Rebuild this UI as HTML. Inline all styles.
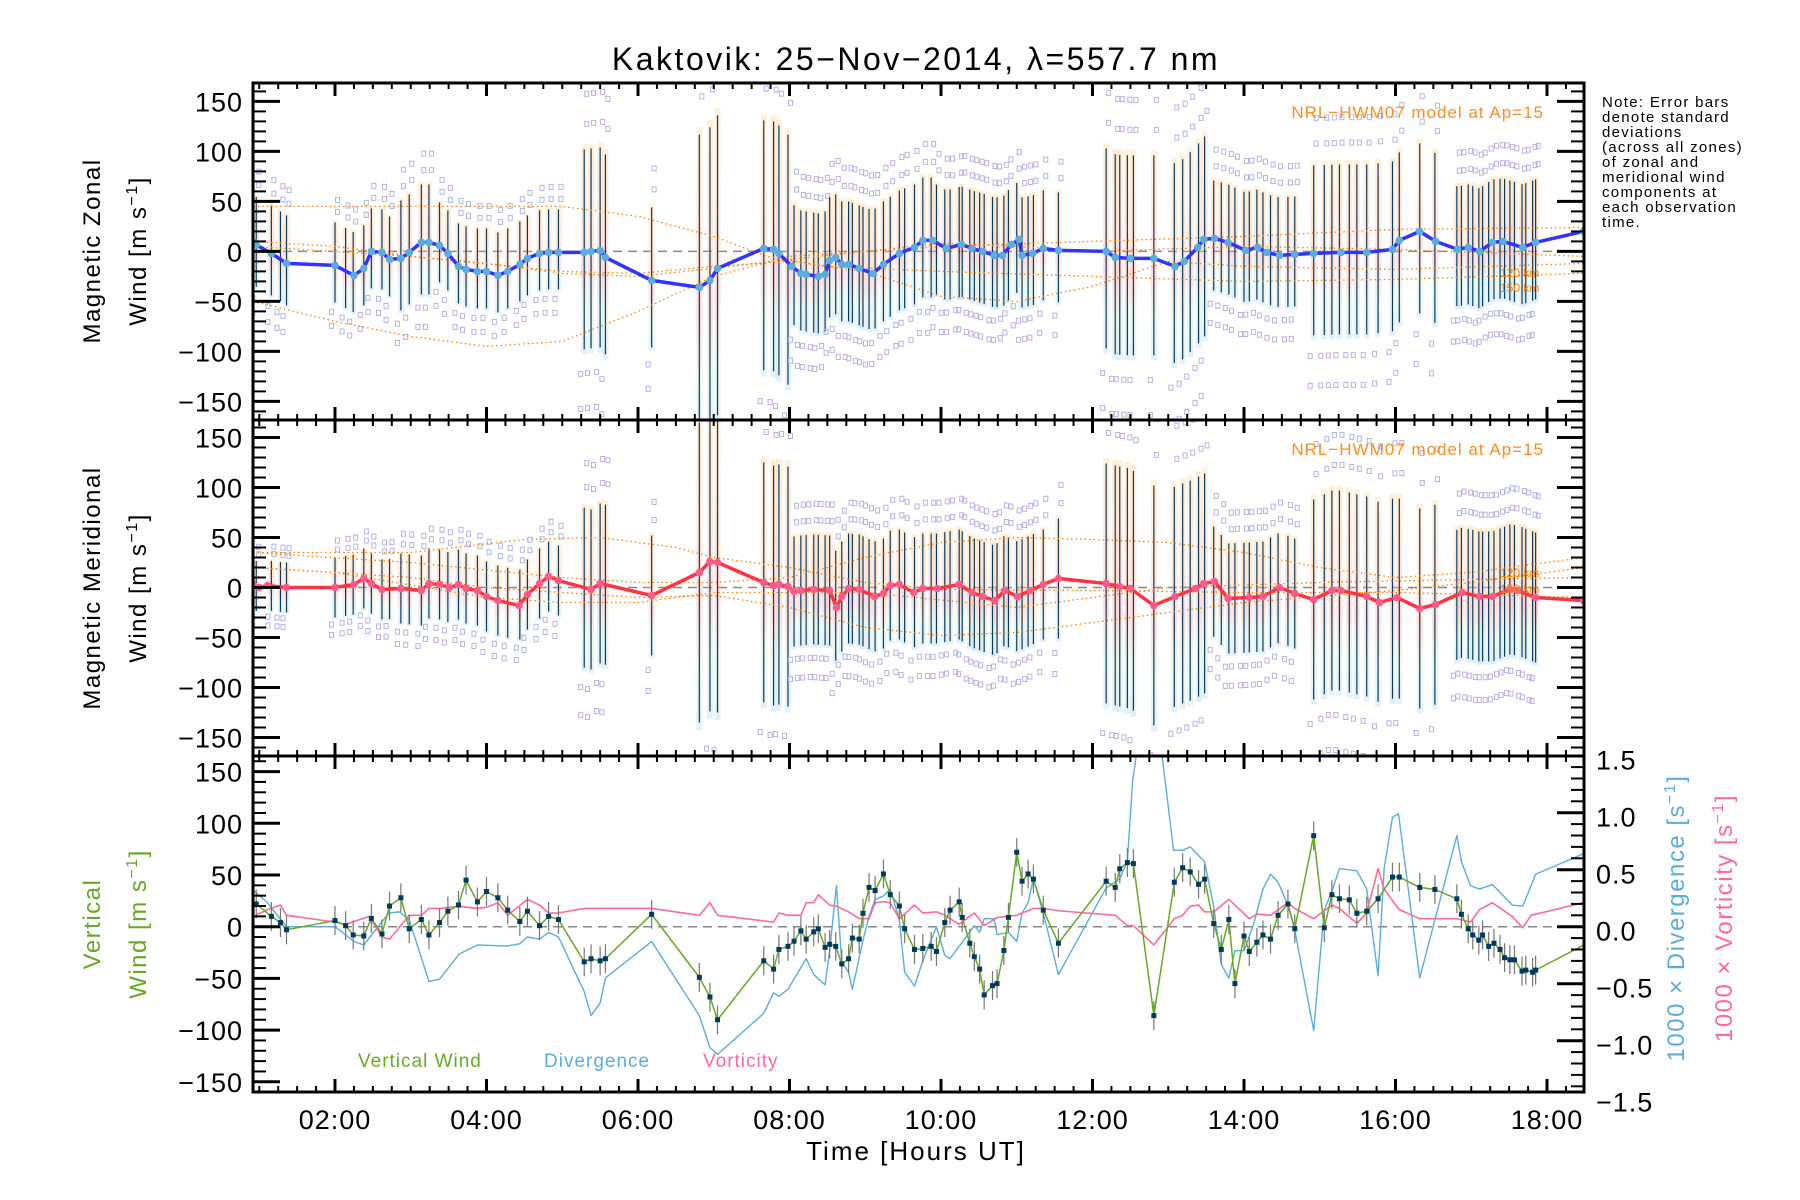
<!DOCTYPE html>
<html><head><meta charset="utf-8"><style>
html,body{margin:0;padding:0;background:#fff;}
svg{display:block;font-family:"Liberation Sans",sans-serif;}
</style></head><body>
<svg id="chart" xmlns="http://www.w3.org/2000/svg" width="1800" height="1200" viewBox="0 0 1800 1200">
<defs>
<clipPath id="c1"><rect x="253" y="83" width="1331" height="337"/></clipPath>
<clipPath id="c2"><rect x="253" y="420" width="1331" height="336"/></clipPath>
<clipPath id="c3"><rect x="253" y="756" width="1331" height="336"/></clipPath>
<linearGradient id="halo" x1="0" y1="0" x2="0" y2="1">
<stop offset="0" stop-color="#ffd9a0"/><stop offset="0.45" stop-color="#ffc0a8"/><stop offset="0.6" stop-color="#f8b0b0"/><stop offset="0.8" stop-color="#c8ecd8"/><stop offset="1" stop-color="#b8dcf4"/>
</linearGradient>
</defs>
<rect width="1800" height="1200" fill="#fff"/>
<text x="916" y="70" font-size="32" letter-spacing="2.5" text-anchor="middle">Kaktovik: 25−Nov−2014, λ=557.7 nm</text>
<g id="p1" clip-path="url(#c1)"></g>
<g id="p2" clip-path="url(#c2)"></g>
<g id="p3" clip-path="url(#c3)"></g>
<g id="axes"></g>
<g font-size="24" letter-spacing="1.5">
<text transform="translate(100,251) rotate(-90)" text-anchor="middle">Magnetic Zonal</text>
<text transform="translate(146,251) rotate(-90)" text-anchor="middle">Wind [m s<tspan font-size="16" dy="-9">−1</tspan><tspan dy="9">]</tspan></text>
</g>
<g font-size="24" letter-spacing="1.5">
<text transform="translate(100,588) rotate(-90)" text-anchor="middle">Magnetic Meridional</text>
<text transform="translate(146,588) rotate(-90)" text-anchor="middle">Wind [m s<tspan font-size="16" dy="-9">−1</tspan><tspan dy="9">]</tspan></text>
</g>
<g font-size="24" letter-spacing="1.5" fill="#66aa22">
<text transform="translate(100,924) rotate(-90)" text-anchor="middle">Vertical</text>
<text transform="translate(146,924) rotate(-90)" text-anchor="middle">Wind [m s<tspan font-size="16" dy="-9">−1</tspan><tspan dy="9">]</tspan></text>
</g>
<text transform="translate(1684,918) rotate(-90)" text-anchor="middle" font-size="24" letter-spacing="1.5" fill="#5aaedc">1000 × Divergence [s<tspan font-size="16" dy="-9">−1</tspan><tspan dy="9">]</tspan></text>
<text transform="translate(1732,918) rotate(-90)" text-anchor="middle" font-size="24" letter-spacing="1.5" fill="#ff6a98">1000 × Vorticity [s<tspan font-size="16" dy="-9">−1</tspan><tspan dy="9">]</tspan></text>
<text x="916" y="1160" font-size="26" letter-spacing="2" text-anchor="middle">Time [Hours UT]</text>
<g font-size="15" letter-spacing="1.3">
<text x="1602" y="107">Note: Error bars</text><text x="1602" y="122">denote standard</text><text x="1602" y="137">deviations</text><text x="1602" y="152">(across all zones)</text><text x="1602" y="167">of zonal and</text><text x="1602" y="182">meridional wind</text><text x="1602" y="197">components at</text><text x="1602" y="212">each observation</text><text x="1602" y="227">time.</text>
</g>
<text x="1544" y="118" font-size="17" letter-spacing="1" fill="#ff8c1a" text-anchor="end">NRL−HWM07 model at Ap=15</text>
<text x="1544" y="455" font-size="17" letter-spacing="1" fill="#ff8c1a" text-anchor="end">NRL−HWM07 model at Ap=15</text>
<g font-size="12" fill="#ff8000">
<text x="1500" y="277">120 km</text><text x="1500" y="292">150 km</text>
<text x="1500" y="577">120 km</text><text x="1500" y="593">150 km</text>
</g>
<g font-size="19" letter-spacing="1">
<text x="358" y="1067" fill="#66aa22">Vertical Wind</text>
<text x="544" y="1067" fill="#5aaedc">Divergence</text>
<text x="703" y="1067" fill="#ff6a98">Vorticity</text>
</g>
</svg>
<script>
// ---- data ----
const vt=[0.96,1.16,1.28,1.36,2.0,2.14,2.24,2.38,2.48,2.62,2.72,2.87,2.98,3.14,3.24,3.38,3.49,3.63,3.73,3.88,4.0,4.15,4.28,4.44,4.54,4.70,4.82,4.95,5.29,5.38,5.50,5.57,6.18,6.81,6.95,7.05,7.66,7.79,7.86,7.98,8.06,8.15,8.22,8.32,8.38,8.47,8.53,8.61,8.69,8.78,8.83,8.92,8.97,9.05,9.13,9.24,9.33,9.45,9.52,9.65,9.76,9.87,9.94,10.05,10.12,10.24,10.28,10.38,10.44,10.51,10.57,10.68,10.74,10.83,10.89,11.0,11.07,11.15,11.22,11.35,11.55,12.18,12.30,12.36,12.46,12.54,12.81,13.08,13.19,13.29,13.40,13.48,13.60,13.70,13.80,13.88,14.0,14.07,14.17,14.25,14.35,14.45,14.58,14.67,14.92,15.06,15.16,15.26,15.39,15.49,15.62,15.77,15.96,16.05,16.32,16.52,16.81,16.87,16.96,17.02,17.10,17.15,17.23,17.30,17.38,17.44,17.51,17.57,17.67,17.72,17.81,17.85,18.48];
const vw=[22,10,4,-3,6,1,-8,-9,8,-7,20,28,-2,7,-8,4,15,21,45,24,34,28,16,5,15,1,10,7,-34,-31,-33,-31,12,-49,-68,-90,-33,-41,-22,-19,-14,-4,-12,-5,-2,-20,-17,-19,-36,-31,-11,-12,13,38,35,51,31,20,-2,-22,-21,-19,-24,4,16,24,9,-16,-29,-41,-66,-57,-55,-23,9,72,44,51,46,16,-16,44,38,56,62,61,-86,43,57,53,41,46,3,-22,7,-55,-9,-24,-15,-8,-12,11,22,-2,88,-1,31,27,26,13,15,27,48,48,38,36,27,12,-2,-8,-13,-8,-19,-16,-22,-30,-32,-32,-43,-42,-44,-42,-18];
const dt=[0.94,1.11,1.36,2.0,2.25,2.38,2.71,2.85,2.98,3.24,3.38,3.64,3.88,4.26,4.44,4.54,4.70,4.82,4.95,5.29,5.38,5.50,5.57,6.18,6.81,6.95,7.05,7.66,7.79,7.86,7.98,8.22,8.32,8.47,8.53,8.62,8.69,8.78,8.83,8.97,9.05,9.13,9.24,9.33,9.45,9.52,9.65,9.76,9.94,10.05,10.12,10.44,10.51,10.57,10.70,10.74,10.89,11.0,11.07,11.15,11.22,11.35,11.55,12.18,12.36,12.46,12.53,12.60,12.90,13.07,13.19,13.29,13.48,13.60,13.70,13.80,13.88,14.0,14.13,14.25,14.35,14.45,14.58,14.67,14.92,15.06,15.16,15.26,15.49,15.62,15.77,15.85,15.96,16.04,16.32,16.81,16.87,16.99,17.11,17.28,17.54,17.68,17.85,18.48];
const dv=[0.31,0.21,0,0,-0.13,-0.16,0.12,0.13,0.06,-0.48,-0.46,-0.24,-0.16,-0.17,-0.15,-0.09,-0.11,-0.05,-0.09,-0.57,-0.78,-0.67,-0.45,-0.13,-0.78,-1.06,-1.12,-0.76,-0.58,-0.61,-0.55,-0.28,-0.42,-0.51,-0.21,0.36,-0.31,-0.40,-0.55,-0.12,0.09,0.24,0.27,0.33,0.06,-0.40,-0.52,-0.30,0,-0.25,-0.28,0.01,-0.05,0.07,0.07,-0.07,-0.05,-0.13,0.12,0.21,0.42,0.12,-0.42,0.34,0.42,0.57,1.28,1.6,1.6,0.67,0.67,0.70,0.57,0.18,-0.33,-0.45,-0.21,-0.21,0.03,0.33,0.46,0.39,0.19,-0.03,-0.91,0.15,0.31,0.51,0.49,0.33,-0.43,0.51,0.96,0.99,-0.45,0.80,0.57,0.36,0.33,0.37,0.19,0.18,0.46,0.64];
const rt=[0.95,1.11,1.28,1.36,2.0,2.14,2.45,2.62,2.72,2.98,3.14,3.24,3.38,3.63,3.88,4.0,4.15,4.28,4.54,4.70,4.82,4.95,5.29,5.50,6.18,6.81,6.95,7.05,7.79,7.86,7.98,8.15,8.22,8.32,8.38,8.53,8.62,8.78,8.92,9.05,9.13,9.24,9.33,9.45,9.65,9.76,9.94,10.05,10.24,10.44,10.57,10.74,11.0,11.22,11.35,11.55,12.30,12.46,12.54,12.81,13.08,13.19,13.29,13.40,13.48,13.60,13.80,14.07,14.17,14.35,14.58,14.67,14.92,15.16,15.26,15.49,15.62,15.77,15.85,16.05,16.32,16.81,16.99,17.11,17.28,17.54,17.68,17.79,18.48];
const rv=[0.10,0.15,0.19,0.10,0.04,0.02,0.09,-0.09,-0.11,0.10,0.10,0.16,0.16,0.18,0.16,0.17,0.21,0.10,0.24,0.19,0.12,0.12,0.16,0.16,0.16,0.10,0.21,0.10,0.04,0.12,0.10,0.10,0.21,0.21,0.28,0.19,0.18,0.13,0.07,0.07,0.21,0.22,0.21,0.07,0.19,0.12,0.13,0.10,0.02,0.12,0.01,0.08,0.10,0.16,0.16,0.14,0.10,0.01,0.01,-0.16,0.07,0.10,0.18,0.19,0.13,0.13,0.24,0.07,0.11,0.10,0.21,0.16,0.07,0.19,0.16,0.03,0.12,0.51,0.33,0.15,0.07,0.07,0.04,0.15,0.21,0.09,-0.01,0.10,0.21];
const zt=[0.93,0.96,1.16,1.36,2.0,2.25,2.38,2.48,2.62,2.72,2.87,2.98,3.14,3.24,3.38,3.49,3.63,3.73,3.88,4.0,4.15,4.28,4.44,4.54,4.70,4.82,4.95,5.29,5.38,5.50,5.57,6.18,6.81,6.95,7.05,7.66,7.79,7.86,8.03,8.15,8.22,8.38,8.47,8.53,8.61,8.69,8.78,8.92,9.1,9.24,9.45,9.65,9.76,9.89,10.07,10.27,10.41,10.55,10.70,10.81,10.93,11.03,11.07,11.21,11.35,11.55,12.18,12.30,12.50,12.81,13.09,13.21,13.39,13.47,13.61,13.79,14.02,14.18,14.30,14.47,14.67,14.92,15.28,15.62,15.96,16.05,16.32,16.53,16.82,16.96,17.11,17.28,17.42,17.68,17.85,18.48];
const zv=[9,6.5,-2,-12,-14,-24,-17,0,-1,-8,-7,-1,9,9,6,-2,-15,-18,-20,-20,-24,-20,-13,-7,-2,-1,-1,-1,0,1,-6,-29,-36,-29,-17,3,2,-2,-15,-22,-23,-25,-23,-9,-6,-13,-13,-17,-22,-13,-2,4,11,11,3,7,3,0,-4,-4,7,12,-4,-2,3,1,0,-6,-7,-7,-15,-10,4,12,13,9,1,4,-1,-4,-3,-2,-1,-1,2,11,20,10,2,4,0,9,10,4,9,20];
const mt=[0.92,1.0,1.11,1.36,2.0,2.25,2.38,2.48,2.62,2.87,3.14,3.24,3.38,3.51,3.63,3.73,3.88,4.0,4.15,4.43,4.54,4.70,4.82,4.95,5.38,5.50,6.18,6.81,6.95,7.05,7.66,7.79,7.86,7.98,8.06,8.15,8.32,8.53,8.62,8.69,8.78,8.92,9.12,9.24,9.33,9.45,9.64,9.76,9.95,10.24,10.41,10.55,10.71,10.84,11.01,11.18,11.35,11.55,12.18,12.36,12.50,12.81,13.09,13.36,13.47,13.61,13.79,14.07,14.25,14.47,14.67,14.92,15.16,15.28,15.62,15.79,16.02,16.32,16.53,16.88,17.11,17.28,17.51,17.61,17.85,18.48];
const mv=[3,0,2,0,0,3,9,4,-2,-1,-3,4,3,0,3,-1,-3,-9,-13,-18,-7,4,11,7,-2,4,-8,15,26,25,5,2,3,1,-4,-3,-2,-3,-20,-9,-1,-2,-9,-6,2,3,-5,-1,-1,3,-5,-9,-13,-3,-9,-3,3,9,4,1,-1,-18,-9,-1,4,6,-11,-10,-9,0,-6,-12,-3,-3,-9,-15,-10,-21,-17,-5,-9,-9,-2,-3,-10,-13];
// standard-deviation segments (start hour, sd in m/s)
const sdStart=[0.9,1.8,2.8,3.35,5.1,5.9,6.5,7.4,8.05,9.9,11.45,12.0,13.0,13.55,14.85,16.7];
const zonalSd=[45,40,55,40,100,70,150,125,60,55,55,100,100,55,85,60];
const meridSd=[25,30,35,35,80,60,150,120,55,55,60,120,110,55,100,65];
// NRL-HWM07 model curves [hour, value]
const modelZ1=[[0.92,45],[3,45],[5,45],[6,35],[7,15],[7.7,-5],[8.5,-15],[10,-20],[12,-25],[14,-30],[16,-28],[18.5,-22]];
const modelZ2=[[0.92,-50],[2,-70],[3,-85],[4,-95],[5,-90],[6,-60],[7,-25],[8,-5],[10,5],[12,10],[14,15],[16,22],[18.5,24]];
const modelZ3=[[0.92,10],[2,5],[3,-5],[4,-12],[5,-22],[6,-25],[7,-17],[8,-8],[9,0],[10,8],[11,5],[12,0],[14,5],[16,2],[18.5,-5]];
const modelZ4=[[0.92,5],[3,-5],[5,-20],[6,-22],[7,-15],[8,-10],[9,-20],[10,-45],[11,-50],[12,-35],[13,-10],[14,-15],[16,-18],[18.5,-12]];
const modelM1=[[0.92,35],[3,35],[4.5,48],[5.5,50],[6.5,40],[7,30],[8,20],[9,5],[10,-2],[12,-3],[14,-5],[16,-5],[18.5,-10]];
const modelM2=[[0.92,20],[3,10],[4,0],[5,-5],[6,-10],[7,-8],[8,-20],[9,-40],[10,-48],[11,-45],[12,-35],[13,-25],[14,-15],[16,-3],[17,5],[18.5,20]];
const modelM3=[[0.92,35],[3,25],[5,10],[6,5],[7,5],[8,10],[9,30],[10,45],[11,50],[12,48],[13,45],[14,35],[15,20],[16,10],[17,15],[18.5,30]];
const modelM4=[[0.92,20],[2,15],[4,-10],[5,-15],[6,-15],[7,-5],[9,-5],[11,-20],[13,0],[15,5],[17,8],[18.5,10]];
const xTicks=["02:00","04:00","06:00","08:00","10:00","12:00","14:00","16:00","18:00"];
const yTicks=[150,100,50,0,-50,-100,-150];
const rTicks=["1.5","1.0","0.5","0.0","−0.5","−1.0","−1.5"];

// ---- scales ----
const L=253,R=1584;
const X=h=>335+(h-2)*75.75;
const Y1=v=>251.4-v*1.0;
const Y2=v=>587.5-v*1.0;
const Y3=v=>926.7-v*1.034;
const YR=d=>926.7-d*114;
const NS="http://www.w3.org/2000/svg";
function mk(parent,tag,attrs){const e=document.createElementNS(NS,tag);for(const k in attrs)e.setAttribute(k,attrs[k]);parent.appendChild(e);return e;}
function interp(ts,vs,t){if(t<=ts[0])return vs[0];for(let i=1;i<ts.length;i++){if(t<=ts[i]){const f=(t-ts[i-1])/(ts[i]-ts[i-1]);return vs[i-1]+f*(vs[i]-vs[i-1]);}}return vs[vs.length-1];}
function sdAt(arr,t){let s=arr[0];for(let i=0;i<sdStart.length;i++){if(t>=sdStart[i])s=arr[i];}return s;}
const p1=document.getElementById('p1'),p2=document.getElementById('p2'),p3=document.getElementById('p3'),ax=document.getElementById('axes');

function drawBars(g,Y,lt,lv,sdArr,off,nm){
  vt.slice(0,vt.length-1).forEach((t,i)=>{
    const c=interp(lt,lv,t)+off, s=sdAt(sdArr,t), x=X(t);
    const h=mk(g,'rect',{x:x-3,y:Y(c+s*1.05),width:6,height:(s*2.1),fill:'url(#halo)',opacity:0.4});
    
    
  });
  vt.slice(0,vt.length-1).forEach((t,i)=>{
    const c=interp(lt,lv,t)+off, s=sdAt(sdArr,t), x=X(t);
    const b=mk(g,'line',{x1:x,x2:x,y1:Y(c+s),y2:Y(c-s),stroke:'#0b3a5e','stroke-width':1.2});
    
    
    [1.25,-1.25,1.55,-1.6].forEach(k=>{
      const q=mk(g,'rect',{x:x-2.5+(k>0?3:-3),y:Y(c+s*k)-3,width:4,height:5,fill:'none',stroke:'#b4b4e6','stroke-width':1});
      
      
    });
  });
}
function drawModel(g,Y,pts,nm){
  const m=mk(g,'polyline',{points:pts.map(p=>X(p[0])+','+Y(p[1])).join(' '),fill:'none',stroke:'#ff8000','stroke-width':1.3,'stroke-dasharray':'1.5,3'});
  
  
}
function zeroLine(g,Y){
  const z=mk(g,'line',{x1:L,x2:R,y1:Y(0),y2:Y(0),stroke:'#888','stroke-width':1.5,'stroke-dasharray':'9,6'});
  
  
}
function drawLine(g,ts,vs,Y,col,w,nm){
  const l=mk(g,'polyline',{points:ts.map((t,i)=>X(t)+','+Y(vs[i])).join(' '),fill:'none',stroke:col,'stroke-width':w,'stroke-linejoin':'round'});
  
  
}
// panel 1
zeroLine(p1,Y1);
drawBars(p1,Y1,zt,zv,zonalSd,3,'zonal');
[modelZ1,modelZ2,modelZ3,modelZ4].forEach((m,i)=>drawModel(p1,Y1,m,'zonal-model-curve-'+(i+1)));
drawLine(p1,zt,zv,Y1,'#3333ff',3.5,'zonal-wind-line');
zt.forEach((t,i)=>{const d=mk(p1,'circle',{cx:X(t),cy:Y1(zv[i]),r:3.8,fill:'#5aaedc'});
  
  });
// panel 2
zeroLine(p2,Y2);
drawBars(p2,Y2,mt,mv,meridSd,0,'meridional');
[modelM1,modelM2,modelM3,modelM4].forEach((m,i)=>drawModel(p2,Y2,m,'meridional-model-curve-'+(i+1)));
drawLine(p2,mt,mv,Y2,'#ff3344',3.5,'meridional-wind-line');
mt.forEach((t,i)=>{const d=mk(p2,'circle',{cx:X(t),cy:Y2(mv[i]),r:3.8,fill:'#ff5a88'});
  
  });
// panel 3
zeroLine(p3,Y3);
drawLine(p3,dt,dv,YR,'#5aaedc',1.4,'divergence-line');
drawLine(p3,rt,rv,YR,'#ff6a98',1.6,'vorticity-line');
vt.forEach((t,i)=>{if(i<vt.length-1){const e=mk(p3,'line',{x1:X(t),x2:X(t),y1:Y3(vw[i]+14),y2:Y3(vw[i]-14),stroke:'#777','stroke-width':1.2});
  
  }});
drawLine(p3,vt,vw,Y3,'#66aa22',1.5,'vertical-wind-line');
vt.forEach((t,i)=>{if(i<vt.length-1){const d=mk(p3,'rect',{x:X(t)-2.5,y:Y3(vw[i])-2.5,width:5,height:5,fill:'#003a5c'});
  
  }});

// ---- axes ----
const panels=[[83,420,Y1],[420,756,Y2],[756,1092,Y3]];
panels.forEach((p,pi)=>{
  const [top,bot,Y]=p;
  for(let h=1;h<=18.5;h+=0.25){const x=X(h);if(x<L||x>R)continue;const maj=Math.abs(h%2)<1e-6;const len=maj?13:6;
    const t1=mk(ax,'line',{x1:x,x2:x,y1:bot,y2:bot-len,stroke:'#000','stroke-width':maj?3:2});
    
    
    const t2=mk(ax,'line',{x1:x,x2:x,y1:top,y2:top+len,stroke:'#000','stroke-width':maj?3:2});
    
    }
  for(let v=-160;v<=160;v+=10){const y=Y(v);if(y<top+1||y>bot-1)continue;const maj=v%50===0;const len=maj?27:13;
    const t=mk(ax,'line',{x1:L,x2:L+len,y1:y,y2:y,stroke:'#000','stroke-width':maj?3:2});
    
    
    if(pi<2){const r=mk(ax,'line',{x1:R,x2:R-len,y1:y,y2:y,stroke:'#000','stroke-width':maj?3:2});
      
      }}
  yTicks.forEach(v=>{const y=Y(v);const tx=mk(ax,'text',{x:243,y:y+10,'font-size':27,'letter-spacing':1,'text-anchor':'end'});tx.textContent=String(v).replace('-','−');
    
    });
  const b=mk(ax,'rect',{x:L,y:top,width:R-L,height:bot-top,fill:'none',stroke:'#000','stroke-width':3});
  
  
});
for(let d=-1.6;d<=1.61;d+=0.1){const y=YR(d);if(y<757||y>1091)continue;const maj=Math.abs(Math.round(d*10)%5)===0;const len=maj?27:13;
  const t=mk(ax,'line',{x1:R,x2:R-len,y1:y,y2:y,stroke:'#000','stroke-width':maj?3:2});
  
  }
rTicks.forEach((s,i)=>{const d=1.5-i*0.5;const tx=mk(ax,'text',{x:1596,y:YR(d)+14,'font-size':27,'letter-spacing':1});tx.textContent=s;
  
  });
xTicks.forEach((s,i)=>{const tx=mk(ax,'text',{x:X(2+2*i),y:1129,'font-size':27,'letter-spacing':1,'text-anchor':'middle'});tx.textContent=s;
  
  });
</script>
</body></html>
